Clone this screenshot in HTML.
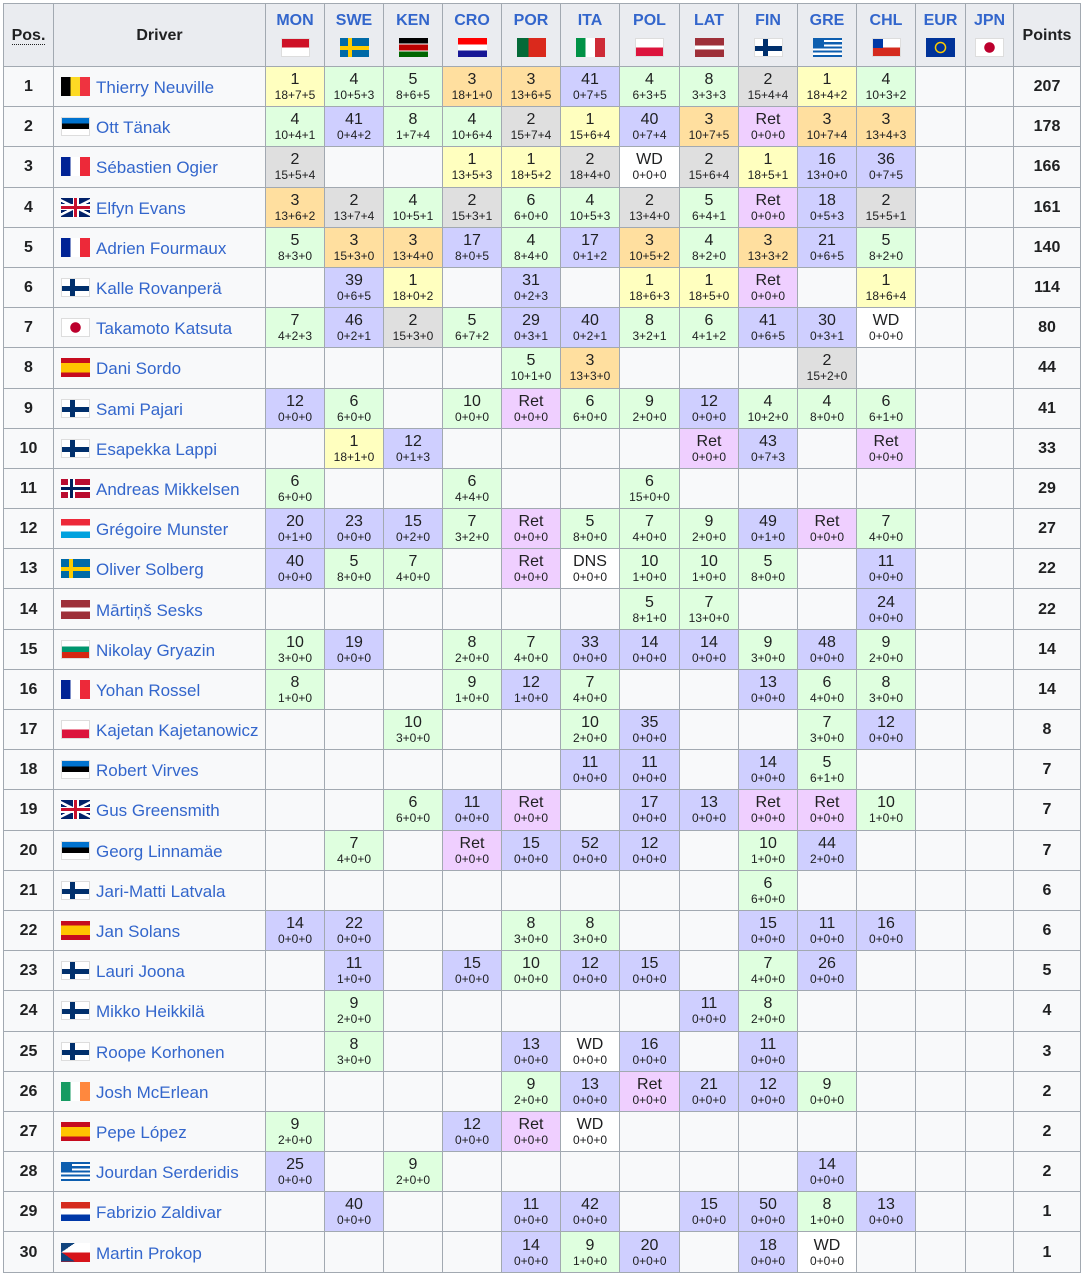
<!DOCTYPE html>
<html><head><meta charset="utf-8"><style>
body{margin:0;background:#fff;}
table{position:absolute;left:3px;top:3px;border-collapse:collapse;table-layout:fixed;width:1078px;font-family:"Liberation Sans",sans-serif;color:#202122;}
td,th{border:1px solid #a2a9b1;text-align:center;padding:0;font-size:16px;line-height:17px;background:#f8f9fa;vertical-align:middle}
th{background:#eaecf0;font-weight:bold;}
th.h{color:#3366cc;vertical-align:top;padding-top:8px;font-size:16px}
th.h i{display:block;margin:9px auto 0;}
tbody tr{height:40.2px}
td small{display:block;font-size:12px;line-height:14px}
td.p{font-weight:bold}
td.d{text-align:left;padding-left:7px;color:#3366cc;white-space:nowrap;overflow:hidden;font-size:17px}
td.d i{margin-right:6px;vertical-align:-3px}
i{display:inline-block;width:29px;height:19px;box-sizing:border-box}
.a{background:#ffffbf}.b{background:#dfdfdf}.c{background:#ffdf9f}.g{background:#dfffdf}.u{background:#cfcfff}.r{background:#efcfff}.w{background:#fff}
.bel{background:linear-gradient(to right,#000 33%,#fdda24 33% 66%,#ef3340 66%)}
.fra{background:linear-gradient(to right,#002395 33%,#fff 33% 66%,#ed2939 66%)}
.ita{background:linear-gradient(to right,#009246 33%,#fff 33% 66%,#ce2b37 66%)}
.irl{background:linear-gradient(to right,#169b62 33%,#fff 33% 66%,#ff883e 66%)}
.est{background:linear-gradient(#0072ce 33%,#000 33% 66%,#fff 66%);border:1px solid #ddd}
.gbr{background:linear-gradient(#c8102e,#c8102e) center/100% 3px no-repeat,linear-gradient(#c8102e,#c8102e) center/3px 100% no-repeat,linear-gradient(#fff,#fff) center/100% 6px no-repeat,linear-gradient(#fff,#fff) center/6px 100% no-repeat,linear-gradient(26deg,transparent 46%,#fff 46% 54%,transparent 54%),linear-gradient(-26deg,transparent 46%,#fff 46% 54%,transparent 54%),#012169}
.fin{background:linear-gradient(#002f6c,#002f6c) 8px 0/5px 100% no-repeat,linear-gradient(#002f6c,#002f6c) 0 7px/100% 5px no-repeat,#fff;border:1px solid #ddd}
.swe{background:linear-gradient(#fecc00,#fecc00) 8px 0/4px 100% no-repeat,linear-gradient(#fecc00,#fecc00) 0 7.5px/100% 4px no-repeat,#006aa7}
.nor{background:linear-gradient(#00205b,#00205b) 9px 0/3px 100% no-repeat,linear-gradient(#00205b,#00205b) 0 8px/100% 3px no-repeat,linear-gradient(#fff,#fff) 7px 0/7px 100% no-repeat,linear-gradient(#fff,#fff) 0 6px/100% 7px no-repeat,#ba0c2f}
.jpn{background:radial-gradient(circle,#bc002d 5px,#fff 5.5px);border:1px solid #ddd}
.esp{background:linear-gradient(#c60b1e 25%,#ffc400 25% 75%,#c60b1e 75%)}
.lux{background:linear-gradient(#ed2939 33%,#fff 33% 66%,#00a1de 66%)}
.bul{background:linear-gradient(#fff 33%,#00966e 33% 66%,#d62612 66%);border:1px solid #ddd}
.par{background:linear-gradient(#d52b1e 33%,#fff 33% 66%,#0038a8 66%)}
.lat{background:linear-gradient(#9e3039 40%,#fff 40% 60%,#9e3039 60%)}
.pol{background:linear-gradient(#fff 50%,#dc143c 50%);border:1px solid #ddd}
.mon{background:linear-gradient(#ce1126 50%,#fff 50%);border:1px solid #ddd}
.por{background:linear-gradient(to right,#046a38 40%,#da291c 40%)}
.cro{background:linear-gradient(#ff0000 33%,#fff 33% 66%,#171796 66%)}
.ken{background:linear-gradient(#000 28%,#fff 28% 34%,#b00 34% 66%,#fff 66% 72%,#060 72%)}
.gre{background:linear-gradient(#0d5eaf,#0d5eaf) 0 0/11px 10px no-repeat,repeating-linear-gradient(#0d5eaf 0 2.1px,#fff 2.1px 4.2px)}
.chl{background:linear-gradient(#0039a6,#0039a6) 0 0/10px 9px no-repeat,linear-gradient(#fff 50%,#d52b1e 50%);border:1px solid #ddd}
.cze{background:linear-gradient(to bottom right,#11457e 50%,transparent 50%) 0 0/14px 9.5px no-repeat,linear-gradient(to top right,#11457e 50%,transparent 50%) 0 9.5px/14px 9.5px no-repeat,linear-gradient(#fff 50%,#d7141a 50%)}
.eur{background:radial-gradient(circle,transparent 4px,#fc0 4.5px 5.5px,transparent 6px),#039}
.pos{border-bottom:1px dotted #202122}
</style></head><body>
<table>
<colgroup><col style="width:50px"><col style="width:212px"><col style="width:59px"><col style="width:59px"><col style="width:59px"><col style="width:59px"><col style="width:59px"><col style="width:59px"><col style="width:60px"><col style="width:59px"><col style="width:59px"><col style="width:59px"><col style="width:59px"><col style="width:50px"><col style="width:48px"><col style="width:67px"></colgroup>
<thead><tr style="height:63px"><th><span class="pos">Pos.</span></th><th>Driver</th>
<th class="h">MON<i class="mon"></i></th><th class="h">SWE<i class="swe"></i></th><th class="h">KEN<i class="ken"></i></th><th class="h">CRO<i class="cro"></i></th><th class="h">POR<i class="por"></i></th><th class="h">ITA<i class="ita"></i></th><th class="h">POL<i class="pol"></i></th><th class="h">LAT<i class="lat"></i></th><th class="h">FIN<i class="fin"></i></th><th class="h">GRE<i class="gre"></i></th><th class="h">CHL<i class="chl"></i></th><th class="h">EUR<i class="eur"></i></th><th class="h">JPN<i class="jpn"></i></th><th>Points</th></tr></thead>
<tbody>
<tr><td class="p">1</td><td class="d"><i class="bel"></i>Thierry Neuville</td><td class="a">1<small>18+7+5</small></td><td class="g">4<small>10+5+3</small></td><td class="g">5<small>8+6+5</small></td><td class="c">3<small>18+1+0</small></td><td class="c">3<small>13+6+5</small></td><td class="u">41<small>0+7+5</small></td><td class="g">4<small>6+3+5</small></td><td class="g">8<small>3+3+3</small></td><td class="b">2<small>15+4+4</small></td><td class="a">1<small>18+4+2</small></td><td class="g">4<small>10+3+2</small></td><td></td><td></td><td class="p">207</td></tr>
<tr><td class="p">2</td><td class="d"><i class="est"></i>Ott Tänak</td><td class="g">4<small>10+4+1</small></td><td class="u">41<small>0+4+2</small></td><td class="g">8<small>1+7+4</small></td><td class="g">4<small>10+6+4</small></td><td class="b">2<small>15+7+4</small></td><td class="a">1<small>15+6+4</small></td><td class="u">40<small>0+7+4</small></td><td class="c">3<small>10+7+5</small></td><td class="r">Ret<small>0+0+0</small></td><td class="c">3<small>10+7+4</small></td><td class="c">3<small>13+4+3</small></td><td></td><td></td><td class="p">178</td></tr>
<tr><td class="p">3</td><td class="d"><i class="fra"></i>Sébastien Ogier</td><td class="b">2<small>15+5+4</small></td><td></td><td></td><td class="a">1<small>13+5+3</small></td><td class="a">1<small>18+5+2</small></td><td class="b">2<small>18+4+0</small></td><td class="w">WD<small>0+0+0</small></td><td class="b">2<small>15+6+4</small></td><td class="a">1<small>18+5+1</small></td><td class="u">16<small>13+0+0</small></td><td class="u">36<small>0+7+5</small></td><td></td><td></td><td class="p">166</td></tr>
<tr><td class="p">4</td><td class="d"><i class="gbr"></i>Elfyn Evans</td><td class="c">3<small>13+6+2</small></td><td class="b">2<small>13+7+4</small></td><td class="g">4<small>10+5+1</small></td><td class="b">2<small>15+3+1</small></td><td class="g">6<small>6+0+0</small></td><td class="g">4<small>10+5+3</small></td><td class="b">2<small>13+4+0</small></td><td class="g">5<small>6+4+1</small></td><td class="r">Ret<small>0+0+0</small></td><td class="u">18<small>0+5+3</small></td><td class="b">2<small>15+5+1</small></td><td></td><td></td><td class="p">161</td></tr>
<tr><td class="p">5</td><td class="d"><i class="fra"></i>Adrien Fourmaux</td><td class="g">5<small>8+3+0</small></td><td class="c">3<small>15+3+0</small></td><td class="c">3<small>13+4+0</small></td><td class="u">17<small>8+0+5</small></td><td class="g">4<small>8+4+0</small></td><td class="u">17<small>0+1+2</small></td><td class="c">3<small>10+5+2</small></td><td class="g">4<small>8+2+0</small></td><td class="c">3<small>13+3+2</small></td><td class="u">21<small>0+6+5</small></td><td class="g">5<small>8+2+0</small></td><td></td><td></td><td class="p">140</td></tr>
<tr><td class="p">6</td><td class="d"><i class="fin"></i>Kalle Rovanperä</td><td></td><td class="u">39<small>0+6+5</small></td><td class="a">1<small>18+0+2</small></td><td></td><td class="u">31<small>0+2+3</small></td><td></td><td class="a">1<small>18+6+3</small></td><td class="a">1<small>18+5+0</small></td><td class="r">Ret<small>0+0+0</small></td><td></td><td class="a">1<small>18+6+4</small></td><td></td><td></td><td class="p">114</td></tr>
<tr><td class="p">7</td><td class="d"><i class="jpn"></i>Takamoto Katsuta</td><td class="g">7<small>4+2+3</small></td><td class="u">46<small>0+2+1</small></td><td class="b">2<small>15+3+0</small></td><td class="g">5<small>6+7+2</small></td><td class="u">29<small>0+3+1</small></td><td class="u">40<small>0+2+1</small></td><td class="g">8<small>3+2+1</small></td><td class="g">6<small>4+1+2</small></td><td class="u">41<small>0+6+5</small></td><td class="u">30<small>0+3+1</small></td><td class="w">WD<small>0+0+0</small></td><td></td><td></td><td class="p">80</td></tr>
<tr><td class="p">8</td><td class="d"><i class="esp"></i>Dani Sordo</td><td></td><td></td><td></td><td></td><td class="g">5<small>10+1+0</small></td><td class="c">3<small>13+3+0</small></td><td></td><td></td><td></td><td class="b">2<small>15+2+0</small></td><td></td><td></td><td></td><td class="p">44</td></tr>
<tr><td class="p">9</td><td class="d"><i class="fin"></i>Sami Pajari</td><td class="u">12<small>0+0+0</small></td><td class="g">6<small>6+0+0</small></td><td></td><td class="g">10<small>0+0+0</small></td><td class="r">Ret<small>0+0+0</small></td><td class="g">6<small>6+0+0</small></td><td class="g">9<small>2+0+0</small></td><td class="u">12<small>0+0+0</small></td><td class="g">4<small>10+2+0</small></td><td class="g">4<small>8+0+0</small></td><td class="g">6<small>6+1+0</small></td><td></td><td></td><td class="p">41</td></tr>
<tr><td class="p">10</td><td class="d"><i class="fin"></i>Esapekka Lappi</td><td></td><td class="a">1<small>18+1+0</small></td><td class="u">12<small>0+1+3</small></td><td></td><td></td><td></td><td></td><td class="r">Ret<small>0+0+0</small></td><td class="u">43<small>0+7+3</small></td><td></td><td class="r">Ret<small>0+0+0</small></td><td></td><td></td><td class="p">33</td></tr>
<tr><td class="p">11</td><td class="d"><i class="nor"></i>Andreas Mikkelsen</td><td class="g">6<small>6+0+0</small></td><td></td><td></td><td class="g">6<small>4+4+0</small></td><td></td><td></td><td class="g">6<small>15+0+0</small></td><td></td><td></td><td></td><td></td><td></td><td></td><td class="p">29</td></tr>
<tr><td class="p">12</td><td class="d"><i class="lux"></i>Grégoire Munster</td><td class="u">20<small>0+1+0</small></td><td class="u">23<small>0+0+0</small></td><td class="u">15<small>0+2+0</small></td><td class="g">7<small>3+2+0</small></td><td class="r">Ret<small>0+0+0</small></td><td class="g">5<small>8+0+0</small></td><td class="g">7<small>4+0+0</small></td><td class="g">9<small>2+0+0</small></td><td class="u">49<small>0+1+0</small></td><td class="r">Ret<small>0+0+0</small></td><td class="g">7<small>4+0+0</small></td><td></td><td></td><td class="p">27</td></tr>
<tr><td class="p">13</td><td class="d"><i class="swe"></i>Oliver Solberg</td><td class="u">40<small>0+0+0</small></td><td class="g">5<small>8+0+0</small></td><td class="g">7<small>4+0+0</small></td><td></td><td class="r">Ret<small>0+0+0</small></td><td class="w">DNS<small>0+0+0</small></td><td class="g">10<small>1+0+0</small></td><td class="g">10<small>1+0+0</small></td><td class="g">5<small>8+0+0</small></td><td></td><td class="u">11<small>0+0+0</small></td><td></td><td></td><td class="p">22</td></tr>
<tr><td class="p">14</td><td class="d"><i class="lat"></i>Mārtiņš Sesks</td><td></td><td></td><td></td><td></td><td></td><td></td><td class="g">5<small>8+1+0</small></td><td class="g">7<small>13+0+0</small></td><td></td><td></td><td class="u">24<small>0+0+0</small></td><td></td><td></td><td class="p">22</td></tr>
<tr><td class="p">15</td><td class="d"><i class="bul"></i>Nikolay Gryazin</td><td class="g">10<small>3+0+0</small></td><td class="u">19<small>0+0+0</small></td><td></td><td class="g">8<small>2+0+0</small></td><td class="g">7<small>4+0+0</small></td><td class="u">33<small>0+0+0</small></td><td class="u">14<small>0+0+0</small></td><td class="u">14<small>0+0+0</small></td><td class="g">9<small>3+0+0</small></td><td class="u">48<small>0+0+0</small></td><td class="g">9<small>2+0+0</small></td><td></td><td></td><td class="p">14</td></tr>
<tr><td class="p">16</td><td class="d"><i class="fra"></i>Yohan Rossel</td><td class="g">8<small>1+0+0</small></td><td></td><td></td><td class="g">9<small>1+0+0</small></td><td class="u">12<small>1+0+0</small></td><td class="g">7<small>4+0+0</small></td><td></td><td></td><td class="u">13<small>0+0+0</small></td><td class="g">6<small>4+0+0</small></td><td class="g">8<small>3+0+0</small></td><td></td><td></td><td class="p">14</td></tr>
<tr><td class="p">17</td><td class="d"><i class="pol"></i>Kajetan Kajetanowicz</td><td></td><td></td><td class="g">10<small>3+0+0</small></td><td></td><td></td><td class="g">10<small>2+0+0</small></td><td class="u">35<small>0+0+0</small></td><td></td><td></td><td class="g">7<small>3+0+0</small></td><td class="u">12<small>0+0+0</small></td><td></td><td></td><td class="p">8</td></tr>
<tr><td class="p">18</td><td class="d"><i class="est"></i>Robert Virves</td><td></td><td></td><td></td><td></td><td></td><td class="u">11<small>0+0+0</small></td><td class="u">11<small>0+0+0</small></td><td></td><td class="u">14<small>0+0+0</small></td><td class="g">5<small>6+1+0</small></td><td></td><td></td><td></td><td class="p">7</td></tr>
<tr><td class="p">19</td><td class="d"><i class="gbr"></i>Gus Greensmith</td><td></td><td></td><td class="g">6<small>6+0+0</small></td><td class="u">11<small>0+0+0</small></td><td class="r">Ret<small>0+0+0</small></td><td></td><td class="u">17<small>0+0+0</small></td><td class="u">13<small>0+0+0</small></td><td class="r">Ret<small>0+0+0</small></td><td class="r">Ret<small>0+0+0</small></td><td class="g">10<small>1+0+0</small></td><td></td><td></td><td class="p">7</td></tr>
<tr><td class="p">20</td><td class="d"><i class="est"></i>Georg Linnamäe</td><td></td><td class="g">7<small>4+0+0</small></td><td></td><td class="r">Ret<small>0+0+0</small></td><td class="u">15<small>0+0+0</small></td><td class="u">52<small>0+0+0</small></td><td class="u">12<small>0+0+0</small></td><td></td><td class="g">10<small>1+0+0</small></td><td class="u">44<small>2+0+0</small></td><td></td><td></td><td></td><td class="p">7</td></tr>
<tr><td class="p">21</td><td class="d"><i class="fin"></i>Jari-Matti Latvala</td><td></td><td></td><td></td><td></td><td></td><td></td><td></td><td></td><td class="g">6<small>6+0+0</small></td><td></td><td></td><td></td><td></td><td class="p">6</td></tr>
<tr><td class="p">22</td><td class="d"><i class="esp"></i>Jan Solans</td><td class="u">14<small>0+0+0</small></td><td class="u">22<small>0+0+0</small></td><td></td><td></td><td class="g">8<small>3+0+0</small></td><td class="g">8<small>3+0+0</small></td><td></td><td></td><td class="u">15<small>0+0+0</small></td><td class="u">11<small>0+0+0</small></td><td class="u">16<small>0+0+0</small></td><td></td><td></td><td class="p">6</td></tr>
<tr><td class="p">23</td><td class="d"><i class="fin"></i>Lauri Joona</td><td></td><td class="u">11<small>1+0+0</small></td><td></td><td class="u">15<small>0+0+0</small></td><td class="g">10<small>0+0+0</small></td><td class="u">12<small>0+0+0</small></td><td class="u">15<small>0+0+0</small></td><td></td><td class="g">7<small>4+0+0</small></td><td class="u">26<small>0+0+0</small></td><td></td><td></td><td></td><td class="p">5</td></tr>
<tr><td class="p">24</td><td class="d"><i class="fin"></i>Mikko Heikkilä</td><td></td><td class="g">9<small>2+0+0</small></td><td></td><td></td><td></td><td></td><td></td><td class="u">11<small>0+0+0</small></td><td class="g">8<small>2+0+0</small></td><td></td><td></td><td></td><td></td><td class="p">4</td></tr>
<tr><td class="p">25</td><td class="d"><i class="fin"></i>Roope Korhonen</td><td></td><td class="g">8<small>3+0+0</small></td><td></td><td></td><td class="u">13<small>0+0+0</small></td><td class="w">WD<small>0+0+0</small></td><td class="u">16<small>0+0+0</small></td><td></td><td class="u">11<small>0+0+0</small></td><td></td><td></td><td></td><td></td><td class="p">3</td></tr>
<tr><td class="p">26</td><td class="d"><i class="irl"></i>Josh McErlean</td><td></td><td></td><td></td><td></td><td class="g">9<small>2+0+0</small></td><td class="u">13<small>0+0+0</small></td><td class="r">Ret<small>0+0+0</small></td><td class="u">21<small>0+0+0</small></td><td class="u">12<small>0+0+0</small></td><td class="g">9<small>0+0+0</small></td><td></td><td></td><td></td><td class="p">2</td></tr>
<tr><td class="p">27</td><td class="d"><i class="esp"></i>Pepe López</td><td class="g">9<small>2+0+0</small></td><td></td><td></td><td class="u">12<small>0+0+0</small></td><td class="r">Ret<small>0+0+0</small></td><td class="w">WD<small>0+0+0</small></td><td></td><td></td><td></td><td></td><td></td><td></td><td></td><td class="p">2</td></tr>
<tr><td class="p">28</td><td class="d"><i class="gre"></i>Jourdan Serderidis</td><td class="u">25<small>0+0+0</small></td><td></td><td class="g">9<small>2+0+0</small></td><td></td><td></td><td></td><td></td><td></td><td></td><td class="u">14<small>0+0+0</small></td><td></td><td></td><td></td><td class="p">2</td></tr>
<tr><td class="p">29</td><td class="d"><i class="par"></i>Fabrizio Zaldivar</td><td></td><td class="u">40<small>0+0+0</small></td><td></td><td></td><td class="u">11<small>0+0+0</small></td><td class="u">42<small>0+0+0</small></td><td></td><td class="u">15<small>0+0+0</small></td><td class="u">50<small>0+0+0</small></td><td class="g">8<small>1+0+0</small></td><td class="u">13<small>0+0+0</small></td><td></td><td></td><td class="p">1</td></tr>
<tr><td class="p">30</td><td class="d"><i class="cze"></i>Martin Prokop</td><td></td><td></td><td></td><td></td><td class="u">14<small>0+0+0</small></td><td class="g">9<small>1+0+0</small></td><td class="u">20<small>0+0+0</small></td><td></td><td class="u">18<small>0+0+0</small></td><td class="w">WD<small>0+0+0</small></td><td></td><td></td><td></td><td class="p">1</td></tr>
</tbody></table>
</body></html>
